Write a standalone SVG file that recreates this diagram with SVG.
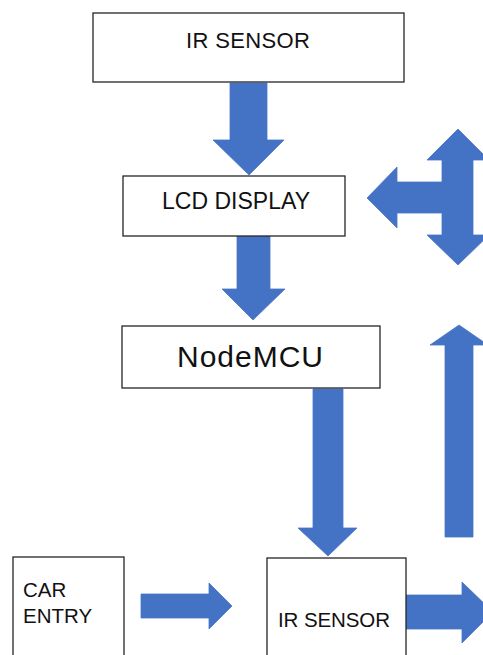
<svg xmlns="http://www.w3.org/2000/svg" width="483" height="655" viewBox="0 0 483 655">
<style>
.box{fill:#fff;stroke:#262626;stroke-width:1.3}
.arr{fill:#4472C4;stroke:#4a76c6;stroke-width:0.8}
.t{font-family:"Liberation Sans",Arial,sans-serif;fill:#111;font-size:20.5px}
</style>
<rect width="483" height="655" fill="#fff"/>
<g id="connectors">
<polygon class="arr" points="230,83 267,83 267,140 284,140 249,175 213,140 230,140"/>
<polygon class="arr" points="237,236 270,236 270,289 285,289 253,320 222,289 237,289"/>
<polygon class="arr" points="313,389 343,389 343,528 357,528 328,556 298,528 313,528"/>
<polygon class="arr" points="141,594 209,594 209,583 232,606 209,629 209,618 141,618"/>
<polygon class="arr" points="406,595 462,595 462,582 493,612 462,643 462,629 406,629"/>
<polygon class="arr" points="445,537 445,345 430,345 459,325 488,345 473,345 473,537"/>
<polygon class="arr" points="367,198 397,167 397,182 442,182 442,160 427,160 458,129 489,160 473,160 473,235 489,235 458,265 427,235 442,235 442,213 397,213 397,228"/>
</g>
<g id="ir-sensor-top">
<rect class="box" x="93" y="13" width="311" height="69"/>
<text class="t" x="248" y="48" text-anchor="middle" style="font-size:22px" textLength="124">IR SENSOR</text>
</g>
<g id="lcd-display">
<rect class="box" x="123" y="176" width="222" height="60"/>
<text class="t" x="236" y="209" text-anchor="middle" style="font-size:23px" textLength="148">LCD DISPLAY</text>
</g>
<g id="nodemcu">
<rect class="box" x="122" y="326" width="258" height="62"/>
<text class="t" x="250" y="367" text-anchor="middle" style="font-size:30px" textLength="146">NodeMCU</text>
</g>
<g id="car-entry">
<rect class="box" x="13" y="557" width="111" height="110"/>
<text class="t" x="23" y="597">CAR</text>
<text class="t" x="23" y="623">ENTRY</text>
</g>
<g id="ir-sensor-bottom">
<rect class="box" x="267" y="558" width="139" height="110"/>
<text class="t" x="334" y="627" text-anchor="middle" textLength="112">IR SENSOR</text>
</g>
</svg>
